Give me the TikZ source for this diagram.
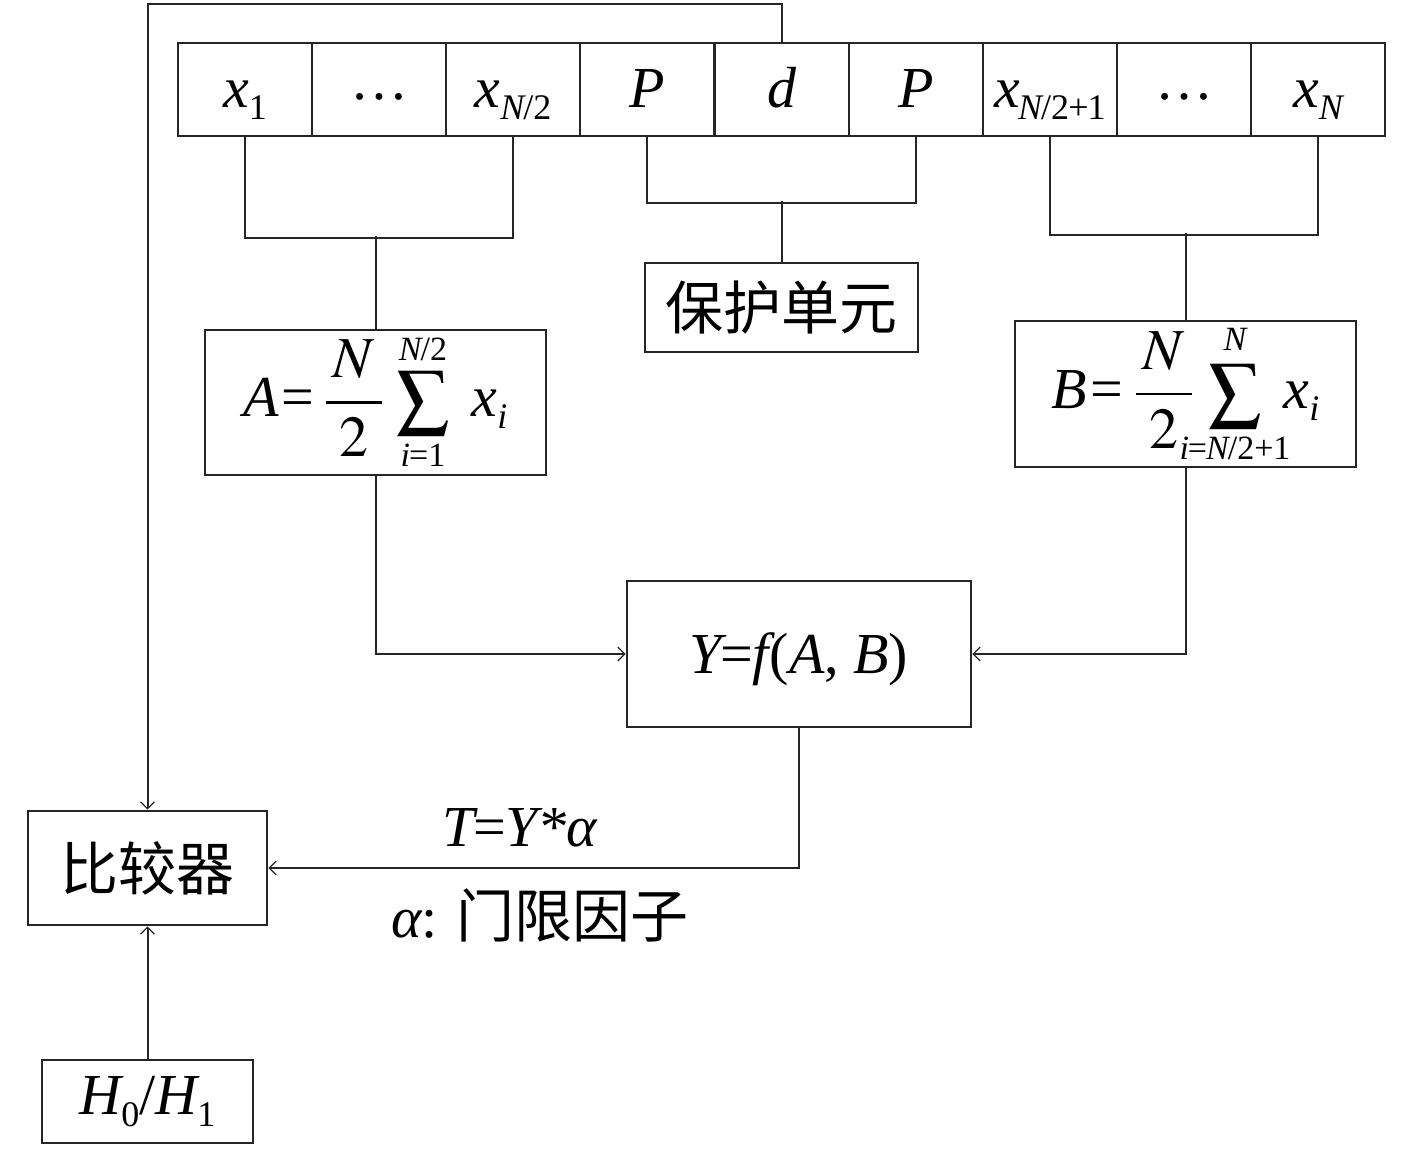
\documentclass[tikz,border=0pt]{standalone}
\usepackage{mathptmx}
\usepackage[no-math]{fontspec}
\setmainfont{Liberation Serif}
\newfontfamily\cjk{Noto Sans CJK SC}
\usetikzlibrary{arrows.meta}
\newcommand\mysub[1]{\raisebox{-0.2em}{\fontsize{36}{36}\selectfont #1}}
\newcommand\limfont{\fontsize{34}{34}\selectfont}
% \mysum{upper}{lower}{kern above sigma}{kern below sigma}
\newcommand\mysum[4]{\vcenter{\offinterlineskip\halign{\hfil##\hfil\cr
  \makebox[0pt]{\limfont #1}\cr\noalign{\kern#3}
  \hbox{\fontsize{52}{52}\selectfont$\displaystyle\sum$}\cr\noalign{\kern#4}
  \makebox[0pt]{\limfont #2}\cr}}}
\newcommand\wfrac{$\displaystyle\frac{\kern7pt N\kern7pt}{2}$}
\begin{document}
\begin{tikzpicture}[x=1pt,y=-1pt,
  lc/.style={draw=black!85,line width=2.6pt},
  box/.style={lc,inner sep=0pt,fill=white,font=\fontsize{58}{70}\selectfont},
  cell/.style={box,minimum width=134pt,minimum height=93pt,text height=45pt,text depth=8pt},
  conn/.style={draw=black!85,line width=2pt},
  arr/.style={conn,-{Straight Barb[length=7pt,width=14pt,line width=1.3pt]}},
  lab/.style={inner sep=0pt,font=\fontsize{58}{70}\selectfont}]
\useasboundingbox (0,0) rectangle (1417,1150);
% top cells
\node[cell] (c1) at (245,89.5) {\itshape x\mysub{\upshape 1}};
\node[cell] (c2) at (379,89.5) {\raisebox{8pt}{…}};
\node[cell] (c3) at (513,89.5) {\itshape x\mysub{N\kern-1pt\upshape/2}};
\node[cell] (c4) at (647,89.5) {\itshape P};
\node[cell] (c5) at (782,89.5) {\itshape d};
\node[cell] (c6) at (916,89.5) {\itshape P};
\node[cell] (c7) at (1050,89.5) {\itshape x\kern-2pt\mysub{N\kern-1pt\upshape/2\kern-1pt+\kern-1pt1}};
\node[cell] (c8) at (1184,89.5) {\raisebox{8pt}{…}};
\node[cell] (c9) at (1318,89.5) {\itshape x\mysub{N}};
% boxes
\node[box,minimum width=341pt,minimum height=145pt] (A) at (375.5,402.5)
  {\itshape A\kern2pt\upshape=\kern11pt\wfrac\kern13pt$\mysum{\itshape N\kern-1pt\upshape/2}{\itshape i\kern-1pt\upshape=1}{10pt}{9pt}$\kern22pt\itshape x\mysub{i}};
\node[box,minimum width=273pt,minimum height=89pt] (G) at (781.5,307.5)
  {\cjk 保护单元};
\node[box,minimum width=341pt,minimum height=146pt] (B) at (1185.5,394)
  {\itshape B\kern3pt\upshape=\kern12pt\wfrac\kern15pt$\mysum{\itshape N}{\itshape i\kern-1pt\upshape=\kern-1pt\itshape N\kern-1pt\upshape/2+1}{14pt}{8pt}$\kern22pt\itshape x\mysub{i}};
\node[box,minimum width=344pt,minimum height=146pt,text height=44pt,text depth=6pt] (Y) at (799,654)
  {\itshape Y\kern-1pt\upshape=\kern-1pt\itshape f\kern1pt\upshape(\itshape A\upshape, \itshape B\upshape)};
\node[box,minimum width=239pt,minimum height=114pt] (C) at (147.5,868)
  {\cjk 比较器};
\node[box,minimum width=211pt,minimum height=83pt] (H) at (147.5,1101.5)
  {\itshape H\mysub{\upshape 0}\upshape/\itshape H\mysub{\upshape 1}};
% brackets
\draw[conn] (c1.south) -- ++(0,101) -| (c3.south);
\draw[conn] (A.north) -- ++(0,-93);
\draw[conn] (c4.south) -- ++(0,66) -| (c6.south);
\draw[conn] (G.north) -- ++(0,-61);
\draw[conn] (c7.south) -- ++(0,98) -| (c9.south);
\draw[conn] (B.north) -- ++(0,-87);
% arrows
\draw[arr] (A.south) |- (Y.west);
\draw[arr] (B.south) |- (Y.east);
\draw[arr] (Y.south) |- (C.east);
\draw[arr] (c5.north) -- ++(0,-38) -| (C.north);
\draw[arr] (H.north) -- (C.south);
% labels
\node[lab] (T) at (520,828) {\itshape T\kern-1pt\upshape=\kern-1pt\itshape Y*α};
\node[lab] (al) at (540,915) {\itshape α\upshape: {\cjk 门限因子}};
\end{tikzpicture}
\end{document}
